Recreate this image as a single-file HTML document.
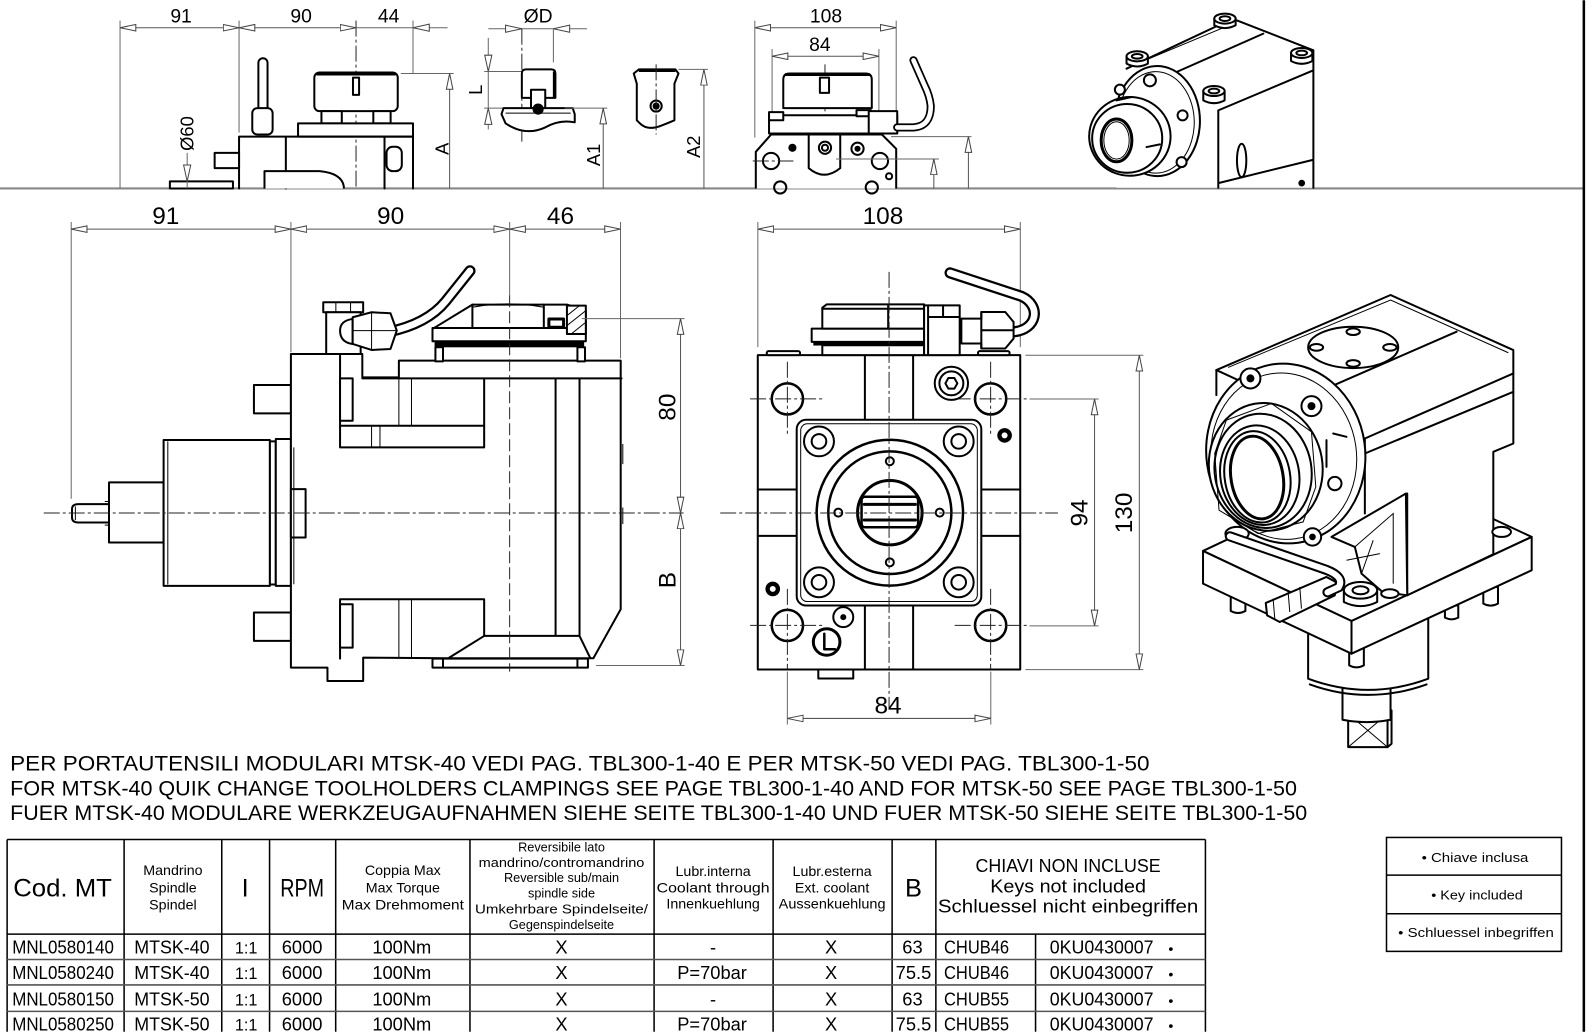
<!DOCTYPE html>
<html><head><meta charset="utf-8"><title>Drawing</title>
<style>
html,body{margin:0;padding:0;background:#fff;overflow:hidden}
svg{display:block}
text{font-family:"Liberation Sans",sans-serif;fill:#000}
.o{fill:none;stroke:#000;stroke-width:2;vector-effect:non-scaling-stroke;stroke-linejoin:round;stroke-linecap:round}
.w{fill:#fff;stroke:#000;stroke-width:2;vector-effect:non-scaling-stroke;stroke-linejoin:round}
.t{fill:none;stroke:#000;stroke-width:1;vector-effect:non-scaling-stroke}
.d{fill:none;stroke:#666;stroke-width:1;vector-effect:non-scaling-stroke}
.c{fill:none;stroke:#222;stroke-width:1;stroke-dasharray:16 3 3 3;vector-effect:non-scaling-stroke}
.b{fill:#000;stroke:none}
.dm{fill:none;stroke:#555;stroke-width:1;marker-start:url(#a);marker-end:url(#a)}
.de{fill:none;stroke:#555;stroke-width:1;marker-start:url(#a)}
.tl{fill:none;stroke:#000;stroke-width:1.5}
.tg{fill:none;stroke:#555;stroke-width:1.5}
</style></head><body>
<svg width="1593" height="1032" viewBox="0 0 1566 1014" xmlns="http://www.w3.org/2000/svg">
<defs>
<marker id="a" viewBox="0 0 16 8" refX="16" refY="4" markerWidth="16" markerHeight="8" markerUnits="userSpaceOnUse" orient="auto-start-reverse">
<path d="M0.5,0.8 L16,4 L0.5,7.2 Z" fill="#fff" stroke="#444" stroke-width="1"/>
</marker>
</defs>

<!-- frame -->
<line x1="0" y1="185" x2="1557" y2="185" stroke="#888" stroke-width="2"/>
<line x1="1557" y1="0" x2="1557" y2="1014" stroke="#000" stroke-width="2.5"/>

<!-- ========== TOP LEFT (small side view) ========== -->
<line class="d" x1="118" y1="20" x2="118" y2="185"/>
<line class="d" x1="235" y1="20" x2="235" y2="130"/>
<line class="d" x1="406" y1="20" x2="406" y2="72"/>
<line class="c" x1="350" y1="20" x2="350" y2="185"/>
<line class="dm" x1="118" y1="27" x2="235" y2="27"/>
<line class="dm" x1="235" y1="27" x2="350" y2="27"/>
<line class="d" x1="350" y1="27" x2="440" y2="27"/>
<path d="M406,27 L422,23.5 L422,30.5 Z" fill="#fff" stroke="#444"/>
<text x="178" y="22" font-size="19" text-anchor="middle">91</text>
<text x="296" y="22" font-size="19" text-anchor="middle">90</text>
<text x="382" y="22" font-size="19" text-anchor="middle">44</text>
<rect class="w" x="309" y="71" width="82" height="38" rx="5"/>
<line x1="311" y1="72.5" x2="389" y2="72.5" stroke="#000" stroke-width="3"/>
<rect class="w" x="347" y="76" width="6" height="17"/>
<rect class="w" x="316" y="109" width="20" height="12"/>
<rect class="w" x="367" y="109" width="17" height="12"/>
<rect class="w" x="293" y="121" width="113" height="13"/>
<path class="o" d="M235,185 V134 H406 V185 M281,134 V185 M378,134 V185"/>
<rect class="w" x="254" y="57" width="9" height="55" rx="4.5"/>
<rect class="w" x="248" y="106" width="20" height="26" rx="5"/>
<rect class="w" x="211" y="150" width="24" height="15"/>
<path class="w" d="M260,185 V168 H314 Q336,170 338,183 V185"/>
<rect class="w" x="380" y="144" width="15" height="24" rx="6"/>
<rect class="w" x="167" y="178" width="62" height="7"/>
<line class="d" x1="184" y1="150" x2="184" y2="185"/>
<path d="M184,178 L180.5,162 L187.5,162 Z" fill="#fff" stroke="#444"/>
<text transform="translate(190,131) rotate(-90)" font-size="18" text-anchor="middle">Ø60</text>
<line class="d" x1="394" y1="72" x2="446" y2="72"/>
<line class="de" x1="442" y1="72" x2="442" y2="185"/>
<text transform="translate(441,146) rotate(-90)" font-size="18" text-anchor="middle">A</text>
<line class="d" x1="480" y1="28" x2="577" y2="28"/>
<path d="M513,28 L497,24.5 L497,31.5 Z" fill="#fff" stroke="#444"/>
<path d="M544,28 L560,24.5 L560,31.5 Z" fill="#fff" stroke="#444"/>
<text x="529" y="22" font-size="19" text-anchor="middle">ØD</text>
<line class="c" x1="513" y1="28" x2="513" y2="139"/>
<line class="d" x1="544" y1="28" x2="544" y2="61"/>
<line class="d" x1="480" y1="37" x2="480" y2="127"/>
<path d="M480,70 L476.5,54 L483.5,54 Z" fill="#fff" stroke="#444"/>
<path d="M480,106 L476.5,122 L483.5,122 Z" fill="#fff" stroke="#444"/>
<line class="d" x1="476" y1="70" x2="520" y2="70"/>
<line class="d" x1="476" y1="106" x2="552" y2="106"/>
<text transform="translate(474,88) rotate(-90)" font-size="18" text-anchor="middle">L</text>
<path class="w" d="M513,96 V72 Q513,68 517,68 H542 Q546,68 546,72 V96 Z"/>
<line x1="545" y1="70" x2="545" y2="96" stroke="#000" stroke-width="3"/>
<rect class="w" x="522" y="88" width="14" height="18"/>
<path class="w" d="M495,106 H563 L565,112 V120 Q550,117 536,125 Q516,134 497,121 L493,112 Z"/>
<line class="t" x1="497" y1="111" x2="561" y2="111"/>
<circle class="b" cx="529" cy="107" r="5.5"/>
<line class="d" x1="555" y1="106" x2="597" y2="106"/>
<line class="de" x1="593" y1="106" x2="593" y2="185"/>
<text transform="translate(590,152) rotate(-90)" font-size="18" text-anchor="middle">A1</text>
<path class="w" d="M628,68 H664 L667,72 L663,82 V118 Q656,121 648,124 Q636,128 629,121 L626,118 V82 L623,72 Z"/>
<line x1="628" y1="69" x2="664" y2="69" stroke="#000" stroke-width="3"/>
<circle class="o" cx="645" cy="104" r="5.5"/><circle class="b" cx="645" cy="104" r="3.5"/>
<line class="c" x1="645" y1="63" x2="645" y2="132"/>
<line class="d" x1="667" y1="68" x2="696" y2="68"/>
<line class="de" x1="692" y1="68" x2="692" y2="185"/>
<text transform="translate(688,144) rotate(-90)" font-size="18" text-anchor="middle">A2</text>

<!-- ========== TOP MIDDLE (small front view) ========== -->
<line class="d" x1="742" y1="20" x2="742" y2="135"/>
<line class="d" x1="881" y1="20" x2="881" y2="132"/>
<line class="d" x1="759" y1="48" x2="759" y2="112"/>
<line class="d" x1="864" y1="48" x2="864" y2="110"/>
<line class="dm" x1="742" y1="27" x2="881" y2="27"/>
<line class="dm" x1="759" y1="55" x2="864" y2="55"/>
<text x="812" y="22" font-size="19" text-anchor="middle">108</text>
<text x="806" y="50" font-size="19" text-anchor="middle">84</text>
<line class="c" x1="811" y1="63" x2="811" y2="185"/>
<path class="w" d="M770,106 V78 Q770,72 776,72 H851 Q857,72 857,78 V106 Z"/>
<line x1="772" y1="73" x2="855" y2="73" stroke="#000" stroke-width="3"/>
<rect class="w" x="806" y="76" width="9" height="15"/>
<rect class="w" x="756" y="113" width="126" height="18"/>
<rect class="w" x="756" y="110" width="14" height="8"/>
<rect class="w" x="842" y="108" width="14" height="6"/>
<rect class="w" x="854" y="109" width="28" height="22"/>
<path d="M882,125 H898 Q915,124 915,104 Q914,94 909,84 L898,59" fill="none" stroke="#000" stroke-width="8" stroke-linecap="round"/>
<path d="M882,125 H898 Q915,124 915,104 Q914,94 909,84 L898,59" fill="none" stroke="#fff" stroke-width="4.5" stroke-linecap="round"/>
<path class="w" d="M743,185 V149 L758,132 H867 L881,146 V185"/>
<path class="o" d="M795,132 V165 Q810,178 826,165 V132"/>
<circle class="o" cx="758" cy="158" r="8"/>
<circle class="o" cx="865" cy="158" r="8"/>
<line class="c" x1="740" y1="158" x2="780" y2="158"/>
<line class="d" x1="822" y1="156" x2="923" y2="156"/>
<circle class="b" cx="779" cy="145" r="4"/>
<circle class="o" cx="843" cy="146" r="6"/><circle class="b" cx="843" cy="146" r="3"/>
<circle class="o" cx="811" cy="145" r="6"/><circle class="o" cx="811" cy="145" r="3"/>
<circle class="o" cx="767" cy="184" r="6"/><circle class="o" cx="857" cy="184" r="6"/>
<circle class="o" cx="874" cy="173" r="3"/>
<line class="d" x1="876" y1="134" x2="955" y2="134"/>
<line class="de" x1="952" y1="134" x2="952" y2="185"/>
<line class="de" x1="918" y1="156" x2="918" y2="185"/>

<!-- ========== TOP RIGHT ISO (partial) ========== -->
<g transform="translate(1032,0) scale(0.328)">
<path fill="#fff" d="M230,205 L525,60 L790,152 V562 H200 L120,440 Z"/>
<path class="o" d="M230,205 L525,66 M560,60 L790,150 V562 M505,330 V562 M505,330 L790,210 M380,215 L640,100 M505,548 L790,478"/>
<path class="t" d="M250,195 L530,78"/>
<path class="w" d="M493,55 V75 Q525,92 557,75 V55 Z"/><ellipse class="w" cx="525" cy="55" rx="32" ry="15"/><ellipse class="o" cx="525" cy="55" rx="16" ry="7"/>
<path class="w" d="M230,168 V190 Q262,207 294,190 V168 Z"/><ellipse class="w" cx="262" cy="168" rx="32" ry="15"/><ellipse class="o" cx="262" cy="168" rx="16" ry="7"/>
<path class="w" d="M723,158 V182 Q755,199 787,182 V158 Z"/><ellipse class="w" cx="755" cy="158" rx="32" ry="15"/><ellipse class="o" cx="755" cy="158" rx="16" ry="7"/>
<path class="w" d="M460,272 V300 Q492,317 524,300 V272 Z"/><ellipse class="w" cx="492" cy="272" rx="32" ry="15"/><ellipse class="o" cx="492" cy="272" rx="16" ry="7"/>
<ellipse class="w" cx="322" cy="362" rx="128" ry="165"/>
<ellipse class="t" cx="318" cy="366" rx="115" ry="152"/>
<circle class="w" cx="300" cy="240" r="18"/><circle class="w" cx="210" cy="268" r="15"/>
<circle class="w" cx="398" cy="345" r="15"/><circle class="w" cx="395" cy="485" r="15"/>
<ellipse class="w" cx="240" cy="408" rx="122" ry="118"/>
<ellipse class="o" cx="232" cy="414" rx="105" ry="103"/>
<ellipse class="o" cx="200" cy="420" rx="46" ry="64" style="stroke-width:3"/>
<ellipse class="t" cx="200" cy="420" rx="38" ry="56"/>
<path class="o" d="M200,300 L245,290 M290,440 L330,432"/>
<ellipse class="o" cx="575" cy="480" rx="14" ry="50"/>
<circle class="b" cx="755" cy="548" r="10"/>
</g>

<!-- ========== MAIN SIDE VIEW ========== -->
<line class="d" x1="70" y1="218" x2="70" y2="490"/>
<line class="d" x1="286" y1="218" x2="286" y2="346"/>
<line class="d" x1="501" y1="218" x2="501" y2="290"/>
<line class="d" x1="610" y1="218" x2="610" y2="352"/>
<line class="dm" x1="70" y1="225" x2="286" y2="225"/>
<line class="dm" x1="286" y1="225" x2="501" y2="225"/>
<line class="dm" x1="501" y1="225" x2="610" y2="225"/>
<text x="163" y="220" font-size="24" text-anchor="middle">91</text>
<text x="384" y="220" font-size="24" text-anchor="middle">90</text>
<text x="551" y="220" font-size="24" text-anchor="middle">46</text>

<g transform="translate(39,187) scale(0.413,0.328)">
<path class="o" d="M165,940 H92 Q77,940 77,955 V980 Q77,995 92,995 H165"/>
<path class="t" d="M85,947 V988 M155,932 H165 M155,1003 H165"/>
<rect class="w" x="165" y="875" width="130" height="180"/>
<rect class="w" x="295" y="748" width="253" height="437"/>
<line class="t" x1="305" y1="752" x2="305" y2="1181"/>
<rect class="w" x="548" y="752" width="14" height="429"/>
<rect class="w" x="562" y="745" width="36" height="440"/>
<rect class="w" x="510" y="583" width="88" height="85"/>
<rect class="w" x="510" y="1265" width="88" height="85"/>
<path class="w" d="M598,490 H768 V560 H855 V510 H1383 V1255 L1318,1402 H975 L770,1400 V1470 H685 V1430 H598 Z"/>
<path class="o" d="M768,563 H1385"/>
<rect class="w" x="935" y="1403" width="370" height="27"/>
<path class="o" d="M960,1403 V1430 M1280,1403 V1430"/>
<rect class="w" x="942" y="470" width="18" height="42"/>
<rect class="w" x="1280" y="470" width="18" height="42"/>
<path class="o" d="M715,495 V770 H1058 V563"/>
<line class="o" x1="715" y1="705" x2="1058" y2="705"/>
<rect class="w" x="715" y="563" width="30" height="127"/>
<path class="t" d="M855,563 V705 M885,563 V705 M790,705 V770 M810,705 V770"/>
<path class="o" d="M715,1403 V1225 H1058 V1335"/>
<rect class="w" x="715" y="1240" width="30" height="130"/>
<path class="t" d="M855,1225 V1400 M885,1225 V1400"/>
<path class="o" d="M1228,565 V1335 M1285,565 V1335 M1058,1335 H1285 M1058,1335 L975,1400 M1285,1335 L1310,1400"/>
<rect class="w" x="598" y="895" width="35" height="145"/>
<line class="t" x1="605" y1="770" x2="605" y2="1180"/>
<path class="t" d="M1388,760 V820 M1388,950 V1000"/>
<!-- clamp nut -->
<path class="w" d="M935,452 V415 L1030,342 H1255 L1300,360 V452 Z"/>
<path class="o" d="M935,412 H1300 M1030,342 V412 M1200,342 V412"/>
<path class="t" d="M1030,350 Q1115,330 1200,350"/>
<rect class="b" x="940" y="452" width="356" height="18"/>
<rect class="w" x="1255" y="345" width="45" height="85"/>
<path class="t" d="M1255,375 L1285,345 M1255,405 L1300,360 M1265,430 L1300,395"/>
<rect class="w" x="1212" y="385" width="35" height="25" style="stroke-width:3"/>
<!-- fitting -->
<rect class="w" x="675" y="335" width="95" height="30"/>
<path class="t" d="M705,335 V365 M740,335 V365"/>
<rect class="w" x="682" y="365" width="82" height="125"/>
<path class="w" d="M745,385 Q715,390 715,420 Q715,455 745,460 Z"/>
</g>
<path d="M382,326 Q420,318 438,296 L462,266" fill="none" stroke="#000" stroke-width="11" stroke-linecap="round"/>
<path d="M382,326 Q420,318 438,296 L462,266" fill="none" stroke="#fff" stroke-width="6.5" stroke-linecap="round"/>
<g transform="translate(39,187) scale(0.413,0.328)">
<path class="w" d="M745,380 L790,365 L835,368 L850,420 L835,475 L790,478 L745,460 Z"/>
<path class="t" d="M790,365 V478 M745,420 H850"/>
</g>
<line class="d" x1="501" y1="290" x2="501" y2="660" style="stroke-dasharray:12 4;stroke:#222"/>
<line class="c" x1="43" y1="504" x2="672" y2="504"/>
<line class="d" x1="572" y1="313" x2="673" y2="313"/>
<line class="d" x1="586" y1="654" x2="673" y2="654"/>
<line class="dm" x1="669" y1="313" x2="669" y2="504"/>
<line class="dm" x1="669" y1="504" x2="669" y2="654"/>
<text transform="translate(664,400) rotate(-90)" font-size="24" text-anchor="middle">80</text>
<text transform="translate(664,570) rotate(-90)" font-size="24" text-anchor="middle">B</text>

<!-- ========== MAIN FRONT VIEW ========== -->
<line class="d" x1="745" y1="218" x2="745" y2="341"/>
<line class="d" x1="1003" y1="218" x2="1003" y2="341"/>
<line class="dm" x1="745" y1="225" x2="1003" y2="225"/>
<text x="868" y="220" font-size="24" text-anchor="middle">108</text>
<g transform="translate(690,187.5) scale(0.327,0.326)">
<rect class="w" x="168" y="495" width="789" height="948"/>
<path class="o" d="M490,495 V690 M635,495 V690 M490,1250 V1443 M635,1250 V1443 M168,900 H285 M168,1040 H285 M840,900 H957 M840,1040 H957"/>
<rect class="w" x="285" y="690" width="555" height="560" rx="28"/>
<rect class="t" x="297" y="702" width="531" height="536" rx="20"/>
<circle class="o" cx="352" cy="755" r="45"/><circle class="o" cx="352" cy="755" r="22"/>
<circle class="o" cx="772" cy="755" r="45"/><circle class="o" cx="772" cy="755" r="22"/>
<circle class="o" cx="352" cy="1180" r="45"/><circle class="o" cx="352" cy="1180" r="22"/>
<circle class="o" cx="772" cy="1180" r="45"/><circle class="o" cx="772" cy="1180" r="22"/>
<circle class="o" cx="565" cy="970" r="220" style="stroke-width:2.5"/>
<circle class="o" cx="565" cy="970" r="185" style="stroke-width:2.5"/>
<circle class="o" cx="565" cy="970" r="97" style="stroke-width:3"/>
<circle class="o" cx="565" cy="815" r="12"/><circle class="o" cx="565" cy="1120" r="12"/>
<circle class="o" cx="410" cy="970" r="12"/><circle class="o" cx="715" cy="970" r="12"/>
<rect class="w" x="480" y="922" width="170" height="92" rx="10" style="stroke-width:2.5"/>
<path class="o" d="M488,945 H642 M488,992 H642" style="stroke-width:3"/>
<circle class="o" cx="257" cy="627" r="47" style="stroke-width:2.5"/>
<circle class="o" cx="868" cy="627" r="47" style="stroke-width:2.5"/>
<circle class="o" cx="257" cy="1310" r="47" style="stroke-width:2.5"/>
<circle class="o" cx="868" cy="1310" r="47" style="stroke-width:2.5"/>
<path class="c" d="M145,627 H370 M145,1310 H370 M760,627 H985 M760,1310 H985 M257,515 V740 M257,1200 V1443 M868,515 V740 M868,1200 V1443"/>
<circle class="o" cx="750" cy="580" r="50"/><circle class="o" cx="750" cy="580" r="36"/>
<polygon class="o" points="768,580 759,596 741,596 732,580 741,564 759,564"/>
<circle class="b" cx="910" cy="737" r="22"/><circle fill="#fff" cx="910" cy="737" r="9"/>
<circle class="b" cx="213" cy="1200" r="22"/><circle fill="#fff" cx="213" cy="1200" r="9"/>
<circle class="o" cx="425" cy="1285" r="30"/><circle class="b" cx="425" cy="1285" r="9"/>
<circle class="o" cx="375" cy="1360" r="40" style="stroke-width:3"/>
<path class="o" d="M368,1335 V1382 H400" style="stroke-width:2.5"/>
<rect class="w" x="350" y="1443" width="105" height="27"/>
<rect class="w" x="195" y="483" width="100" height="12" rx="5"/>
<rect class="w" x="830" y="483" width="95" height="12" rx="5"/>
<rect class="w" x="362" y="465" width="306" height="30"/>
<rect class="b" x="335" y="452" width="333" height="14"/>
<rect class="w" x="330" y="415" width="338" height="40"/>
<path class="w" d="M362,415 V352 L375,342 H668 V415 Z"/>
<path class="o" d="M560,345 V415 M362,355 H668"/>
<rect class="w" x="668" y="345" width="107" height="150"/>
<path class="o" d="M680,345 V495 M680,380 H775 M725,345 V380"/>
</g>
<path d="M996,326 C1020,324 1024,300 1004,291 L934,268" fill="none" stroke="#000" stroke-width="11" stroke-linecap="round"/>
<path d="M996,326 C1020,324 1024,300 1004,291 L934,268" fill="none" stroke="#fff" stroke-width="6.5" stroke-linecap="round"/>
<g transform="translate(690,187.5) scale(0.327,0.326)">
<path class="w" d="M780,385 H840 V365 H912 L937,395 V445 L912,475 H840 V460 H780 Z"/>
<path class="o" d="M840,365 V475 M840,420 H937"/>
</g>
<line class="c" x1="708" y1="504" x2="1040" y2="504"/>
<line class="c" x1="874" y1="267" x2="874" y2="697"/>
<line class="d" x1="1008" y1="349" x2="1124" y2="349"/>
<line class="d" x1="1008" y1="658" x2="1124" y2="658"/>
<line class="d" x1="1012" y1="392" x2="1080" y2="392"/>
<line class="d" x1="1012" y1="615" x2="1080" y2="615"/>
<line class="dm" x1="1076" y1="392" x2="1076" y2="615"/>
<line class="dm" x1="1120" y1="349" x2="1120" y2="658"/>
<text transform="translate(1069,504) rotate(-90)" font-size="24" text-anchor="middle">94</text>
<text transform="translate(1113,504) rotate(-90)" font-size="24" text-anchor="middle">130</text>
<line class="d" x1="774" y1="660" x2="774" y2="712"/>
<line class="d" x1="974" y1="660" x2="974" y2="712"/>
<line class="dm" x1="774" y1="706" x2="974" y2="706"/>
<text x="873" y="701" font-size="24" text-anchor="middle">84</text>

<!-- ========== MAIN ISO VIEW ========== -->
<g transform="translate(1140,275) scale(0.328)">
<rect class="w" x="565" y="1300" width="118" height="100"/>
<path class="t" d="M565,1300 L683,1400 M683,1300 L565,1400"/>
<path class="o" d="M683,1300 L695,1290 V1390 L683,1400"/>
<path class="w" d="M548,1222 H692 V1318 Q620,1332 548,1318 Z"/>
<path class="w" d="M445,1000 V1195 Q625,1262 805,1195 V1000 Z"/>
<path class="o" d="M450,1212 Q625,1275 800,1212"/>
<path class="w" d="M213,940 V992 Q235,1004 257,992 V940 Z"/>
<path class="w" d="M568,1100 V1155 Q590,1167 612,1155 V1100 Z"/>
<path class="w" d="M970,920 V970 Q992,982 1014,970 V920 Z"/>
<path class="w" d="M855,975 V1012 Q875,1022 895,1012 V975 Z"/>
<path class="w" d="M130,812 L665,560 L1115,770 L575,1022 Z"/>
<path class="w" d="M130,812 L575,1022 L575,1120 L130,910 Z"/>
<path class="w" d="M575,1022 L1115,770 L1115,870 L575,1120 Z"/>
<path fill="#fff" d="M170,270 L692,45 L1060,210 L1060,490 L1000,515 L1000,820 L742,945 L600,962 L240,775 L140,700 L130,470 Z"/>
<path class="o" d="M170,270 L692,45 L1060,210 V490 L1000,515 V820"/>
<path class="t" d="M205,262 L692,60 L1045,218"/>
<path class="o" d="M170,270 L615,475 L1060,280 M615,520 L1060,335 M615,475 V700 M500,325 L890,155"/>
<path class="o" d="M742,640 V945 L1000,822"/>
<ellipse class="o" cx="580" cy="202" rx="135" ry="62"/>
<ellipse class="w" cx="580" cy="155" rx="20" ry="10"/><ellipse class="w" cx="470" cy="202" rx="20" ry="10"/>
<ellipse class="w" cx="690" cy="202" rx="20" ry="10"/><ellipse class="w" cx="580" cy="250" rx="20" ry="10"/>
<ellipse class="w" cx="378" cy="520" rx="238" ry="270" transform="rotate(-8 378 520)"/>
<ellipse class="t" cx="372" cy="528" rx="218" ry="250" transform="rotate(-8 372 528)"/>
<path class="o" d="M170,270 V345"/>
<circle class="w" cx="272" cy="295" r="30"/><circle class="b" cx="272" cy="295" r="12"/>
<circle class="w" cx="455" cy="378" r="30"/><circle class="b" cx="455" cy="378" r="12"/>
<circle class="w" cx="458" cy="770" r="26"/><circle class="b" cx="458" cy="770" r="10"/>
<circle class="w" cx="525" cy="610" r="20"/>
<path class="o" d="M500,480 V560 M520,460 L560,470"/>
<ellipse class="w" cx="318" cy="560" rx="170" ry="192" transform="rotate(-10 318 560)"/>
<polygon class="t" points="200,420 335,370 455,455 468,620 430,725 295,760 178,690 165,520"/>
<ellipse class="o" cx="310" cy="572" rx="145" ry="172" transform="rotate(-10 310 572)"/>
<ellipse class="o" cx="300" cy="585" rx="118" ry="150" transform="rotate(-10 300 585)"/>
<ellipse class="o" cx="293" cy="590" rx="98" ry="138" transform="rotate(-10 293 590)"/>
<ellipse class="o" cx="292" cy="592" rx="78" ry="125" transform="rotate(-10 292 592)" style="stroke-width:3"/>
<path class="w" d="M515,770 L738,640 L742,945 L668,935 L605,880 L585,800 Z"/>
<path class="t" d="M585,800 L700,700 L700,910 M605,880 L640,780 M560,840 L660,820"/>
<path class="w" d="M318,968 L500,890 L528,905 L525,945 L360,1025 L322,1005 Z"/>
<path class="t" d="M340,955 L345,1015 M385,935 L390,995 M420,920 L425,985"/>
<path class="w" d="M552,930 V965 Q602,990 652,965 V930 Z"/>
<ellipse class="w" cx="602" cy="930" rx="50" ry="25"/>
<ellipse class="o" cx="602" cy="930" rx="24" ry="12"/>
<ellipse class="w" cx="690" cy="940" rx="26" ry="13"/>
<ellipse class="w" cx="1025" cy="755" rx="28" ry="15"/>
<ellipse class="w" cx="232" cy="760" rx="35" ry="20"/>
</g>
<path d="M1209,527 L1304,560 Q1322,567 1316,577 L1305,582" fill="none" stroke="#000" stroke-width="10" stroke-linecap="round"/>
<path d="M1209,527 L1304,560 Q1322,567 1316,577 L1305,582" fill="none" stroke="#fff" stroke-width="6" stroke-linecap="round"/>

<!-- ========== NOTES ========== -->
<text x="10" y="757" font-size="21" textLength="1120" lengthAdjust="spacingAndGlyphs">PER PORTAUTENSILI MODULARI MTSK-40 VEDI PAG. TBL300-1-40 E PER MTSK-50 VEDI PAG. TBL300-1-50</text>
<text x="10" y="782" font-size="21" textLength="1265" lengthAdjust="spacingAndGlyphs">FOR MTSK-40 QUIK CHANGE TOOLHOLDERS CLAMPINGS SEE PAGE TBL300-1-40 AND FOR MTSK-50 SEE PAGE TBL300-1-50</text>
<text x="10" y="806" font-size="21" textLength="1275" lengthAdjust="spacingAndGlyphs">FUER MTSK-40 MODULARE WERKZEUGAUFNAHMEN SIEHE SEITE TBL300-1-40 UND FUER MTSK-50 SIEHE SEITE TBL300-1-50</text>

<!-- ========== TABLE ========== -->
<path class="tl" d="M7,825 H1185 M7,825 V1014 M1185,825 V1014 M7,918 H1185 M122,825 V1014 M218,825 V1014 M265,825 V1014 M330,825 V1014 M462,825 V1014 M643,825 V1014 M760,825 V1014 M877,825 V1014 M920,825 V1014 M1018,918 V1014"/>
<path class="tg" d="M7,943 H1185 M7,968 H1185 M7,994 H1185"/>
<text x="13" y="881" font-size="25" textLength="97" lengthAdjust="spacingAndGlyphs">Cod. MT</text>
<g font-size="14" text-anchor="middle">
<text x="170" y="860">Mandrino</text><text x="170" y="877">Spindle</text><text x="170" y="894">Spindel</text>
<text x="396" y="860">Coppia Max</text><text x="396" y="877">Max Torque</text><text x="396" y="894" textLength="120" lengthAdjust="spacingAndGlyphs">Max Drehmoment</text>
<text x="701" y="861">Lubr.interna</text><text x="701" y="877" textLength="111" lengthAdjust="spacingAndGlyphs">Coolant through</text><text x="701" y="893">Innenkuehlung</text>
<text x="818" y="861">Lubr.esterna</text><text x="818" y="877">Ext. coolant</text><text x="818" y="893" textLength="105" lengthAdjust="spacingAndGlyphs">Aussenkuehlung</text>
</g>
<g font-size="12.5" text-anchor="middle">
<text x="552" y="837">Reversibile lato</text>
<text x="552" y="852" textLength="163" lengthAdjust="spacingAndGlyphs">mandrino/contromandrino</text>
<text x="552" y="867">Reversible sub/main</text>
<text x="552" y="882">spindle side</text>
<text x="552" y="898" textLength="170" lengthAdjust="spacingAndGlyphs">Umkehrbare Spindelseite/</text>
<text x="552" y="913">Gegenspindelseite</text>
</g>
<text x="241" y="881" font-size="25" text-anchor="middle">I</text>
<text x="297" y="881" font-size="25" text-anchor="middle" textLength="43" lengthAdjust="spacingAndGlyphs">RPM</text>
<text x="898" y="881" font-size="25" text-anchor="middle">B</text>
<g font-size="18" text-anchor="middle">
<text x="1050" y="857" textLength="182" lengthAdjust="spacingAndGlyphs">CHIAVI NON INCLUSE</text>
<text x="1050" y="877" textLength="153" lengthAdjust="spacingAndGlyphs">Keys not included</text>
<text x="1050" y="897" textLength="256" lengthAdjust="spacingAndGlyphs">Schluessel nicht einbegriffen</text>
</g>
<g font-size="18" text-anchor="middle">
<text x="62" y="937" textLength="100" lengthAdjust="spacingAndGlyphs">MNL0580140</text>
<text x="62" y="962" textLength="100" lengthAdjust="spacingAndGlyphs">MNL0580240</text>
<text x="62" y="988" textLength="100" lengthAdjust="spacingAndGlyphs">MNL0580150</text>
<text x="62" y="1013" textLength="100" lengthAdjust="spacingAndGlyphs">MNL0580250</text>
<text x="169" y="937" textLength="74" lengthAdjust="spacingAndGlyphs">MTSK-40</text>
<text x="169" y="962" textLength="74" lengthAdjust="spacingAndGlyphs">MTSK-40</text>
<text x="169" y="988" textLength="74" lengthAdjust="spacingAndGlyphs">MTSK-50</text>
<text x="169" y="1013" textLength="74" lengthAdjust="spacingAndGlyphs">MTSK-50</text>
<text x="242" y="937" font-size="16">1:1</text><text x="242" y="962" font-size="16">1:1</text>
<text x="242" y="988" font-size="16">1:1</text><text x="242" y="1013" font-size="16">1:1</text>
<text x="297" y="937">6000</text><text x="297" y="962">6000</text><text x="297" y="988">6000</text><text x="297" y="1013">6000</text>
<text x="395" y="937">100Nm</text><text x="395" y="962">100Nm</text><text x="395" y="988">100Nm</text><text x="395" y="1013">100Nm</text>
<text x="552" y="937">X</text><text x="552" y="962">X</text><text x="552" y="988">X</text><text x="552" y="1013">X</text>
<text x="701" y="937">-</text><text x="700" y="962">P=70bar</text><text x="701" y="988">-</text><text x="700" y="1013">P=70bar</text>
<text x="817" y="937">X</text><text x="817" y="962">X</text><text x="817" y="988">X</text><text x="817" y="1013">X</text>
<text x="897" y="937">63</text><text x="898" y="962">75.5</text><text x="897" y="988">63</text><text x="898" y="1013">75.5</text>
<text x="960" y="937" textLength="64" lengthAdjust="spacingAndGlyphs">CHUB46</text>
<text x="960" y="962" textLength="64" lengthAdjust="spacingAndGlyphs">CHUB46</text>
<text x="960" y="988" textLength="64" lengthAdjust="spacingAndGlyphs">CHUB55</text>
<text x="960" y="1013" textLength="64" lengthAdjust="spacingAndGlyphs">CHUB55</text>
<text x="1083" y="937" textLength="102" lengthAdjust="spacingAndGlyphs">0KU0430007</text>
<text x="1083" y="962" textLength="102" lengthAdjust="spacingAndGlyphs">0KU0430007</text>
<text x="1083" y="988" textLength="102" lengthAdjust="spacingAndGlyphs">0KU0430007</text>
<text x="1083" y="1013" textLength="102" lengthAdjust="spacingAndGlyphs">0KU0430007</text>
<text x="1151" y="937" font-size="14">•</text><text x="1151" y="962" font-size="14">•</text>
<text x="1151" y="988" font-size="14">•</text><text x="1151" y="1013" font-size="14">•</text>
</g>

<!-- legend -->
<rect x="1363" y="823" width="172" height="112" fill="none" stroke="#000" stroke-width="1.5"/>
<path class="tl" d="M1363,860 H1535 M1363,898 H1535"/>
<g font-size="13" text-anchor="middle">
<text x="1450" y="847" textLength="105" lengthAdjust="spacingAndGlyphs">• Chiave inclusa</text>
<text x="1452" y="884" textLength="90" lengthAdjust="spacingAndGlyphs">• Key included</text>
<text x="1451" y="921" textLength="153" lengthAdjust="spacingAndGlyphs">• Schluessel inbegriffen</text>
</g>
</svg>
</body></html>
